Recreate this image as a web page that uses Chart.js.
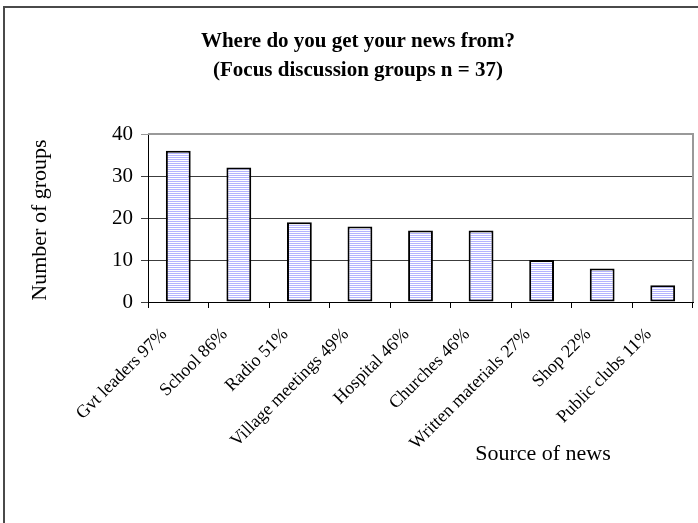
<!DOCTYPE html>
<html>
<head>
<meta charset="utf-8">
<script src="https://cdn.jsdelivr.net/npm/chart.js@4"></script>
<style>
  html, body { margin: 0; padding: 0; background: #ffffff; }
  canvas { display: block; }
</style>
</head>
<body>
<canvas id="chart" width="698" height="523"></canvas>
<script>
// Chart data
const categories = [
    'Gvt leaders 97%', 'School 86%', 'Radio 51%', 'Village meetings 49%',
    'Hospital 46%', 'Churches 46%', 'Written materials 27%', 'Shop 22%', 'Public clubs 11%'
];
const groupCounts = [36, 32, 19, 18, 17, 17, 10, 8, 4];
const yTicks = [0, 10, 20, 30, 40];

const titleLines = ['Where do you get your news from?', '(Focus discussion groups n = 37)'];
const yTitle = 'Number of groups';
const xTitle = 'Source of news';

const SERIF = "'Liberation Serif', 'Times New Roman', serif";

// Horizontal line fill like the old office pattern
function makeStripePattern() {
    const c = document.createElement('canvas');
    c.width = 4;
    c.height = 2;
    const g = c.getContext('2d');
    g.fillStyle = '#ffffff';
    g.fillRect(0, 0, 4, 2);
    g.fillStyle = '#b4b4ff';
    g.fillRect(0, 1, 4, 1);
    return g.createPattern(c, 'repeat');
}

// Frame, plot border and free texts
const decorPlugin = {
    id: 'decor',
    afterDraw(chart) {
        const ctx = chart.ctx;
        const area = chart.chartArea;
        ctx.save();

        // outer frame (only left and top fall inside the picture)
        ctx.strokeStyle = '#4a4a4a';
        ctx.lineWidth = 2;
        ctx.beginPath();
        ctx.moveTo(4, 523);
        ctx.lineTo(4, 7);
        ctx.lineTo(698, 7);
        ctx.stroke();

        // plot top and right border
        ctx.strokeStyle = '#999999';
        ctx.lineWidth = 2;
        ctx.beginPath();
        ctx.moveTo(area.left, area.top);
        ctx.lineTo(area.right, area.top);
        ctx.lineTo(area.right, area.bottom);
        ctx.stroke();

        ctx.fillStyle = '#000000';
        ctx.textAlign = 'center';
        ctx.textBaseline = 'alphabetic';

        // title
        ctx.font = 'bold 21px ' + SERIF;
        ctx.fillText(titleLines[0], 358, 47);
        ctx.fillText(titleLines[1], 358, 76);

        // x axis title
        ctx.font = '22px ' + SERIF;
        ctx.fillText(xTitle, 543, 460);

        // y axis title
        ctx.translate(40, 220);
        ctx.rotate(-Math.PI / 2);
        ctx.textBaseline = 'middle';
        ctx.fillText(yTitle, 0, 0);

        ctx.restore();
    }
};

new Chart(document.getElementById('chart'), {
    type: 'bar',
    data: {
        labels: categories,
        datasets: [{
            data: groupCounts,
            backgroundColor: makeStripePattern(),
            borderColor: '#000000',
            borderWidth: 2,
            borderSkipped: false,
            barPercentage: 0.41,
            categoryPercentage: 1.0
        }]
    },
    options: {
        responsive: false,
        animation: false,
        layout: {
            padding: { top: 134, right: 5, left: 0, bottom: 0 }
        },
        plugins: {
            legend: { display: false },
            title: { display: false },
            tooltip: { enabled: false }
        },
        scales: {
            x: {
                offset: true,
                grid: {
                    offset: true,
                    drawOnChartArea: false,
                    drawTicks: true,
                    tickLength: 6,
                    color: '#000000'
                },
                border: { color: '#000000', width: 1 },
                ticks: {
                    maxRotation: 45,
                    minRotation: 45,
                    autoSkip: false,
                    padding: 16,
                    labelOffset: -14,
                    color: '#000000',
                    font: { family: SERIF, size: 18 }
                },
                afterFit(scale) {
                    scale.height = 523 - 302;
                }
            },
            y: {
                min: 0,
                max: 40,
                afterBuildTicks(scale) {
                    scale.ticks = yTicks.map(v => ({ value: v }));
                },
                grid: {
                    color: ctx => ctx.tick && ctx.tick.value === 40 ? '#999999' : '#3c3c3c',
                    lineWidth: 1,
                    drawTicks: true,
                    tickLength: 7
                },
                border: { color: '#000000', width: 1 },
                ticks: {
                    padding: 8,
                    color: '#000000',
                    font: { family: SERIF, size: 21 }
                },
                afterFit(scale) {
                    scale.width = 148;
                }
            }
        }
    },
    plugins: [decorPlugin]
});
</script>
</body>
</html>
